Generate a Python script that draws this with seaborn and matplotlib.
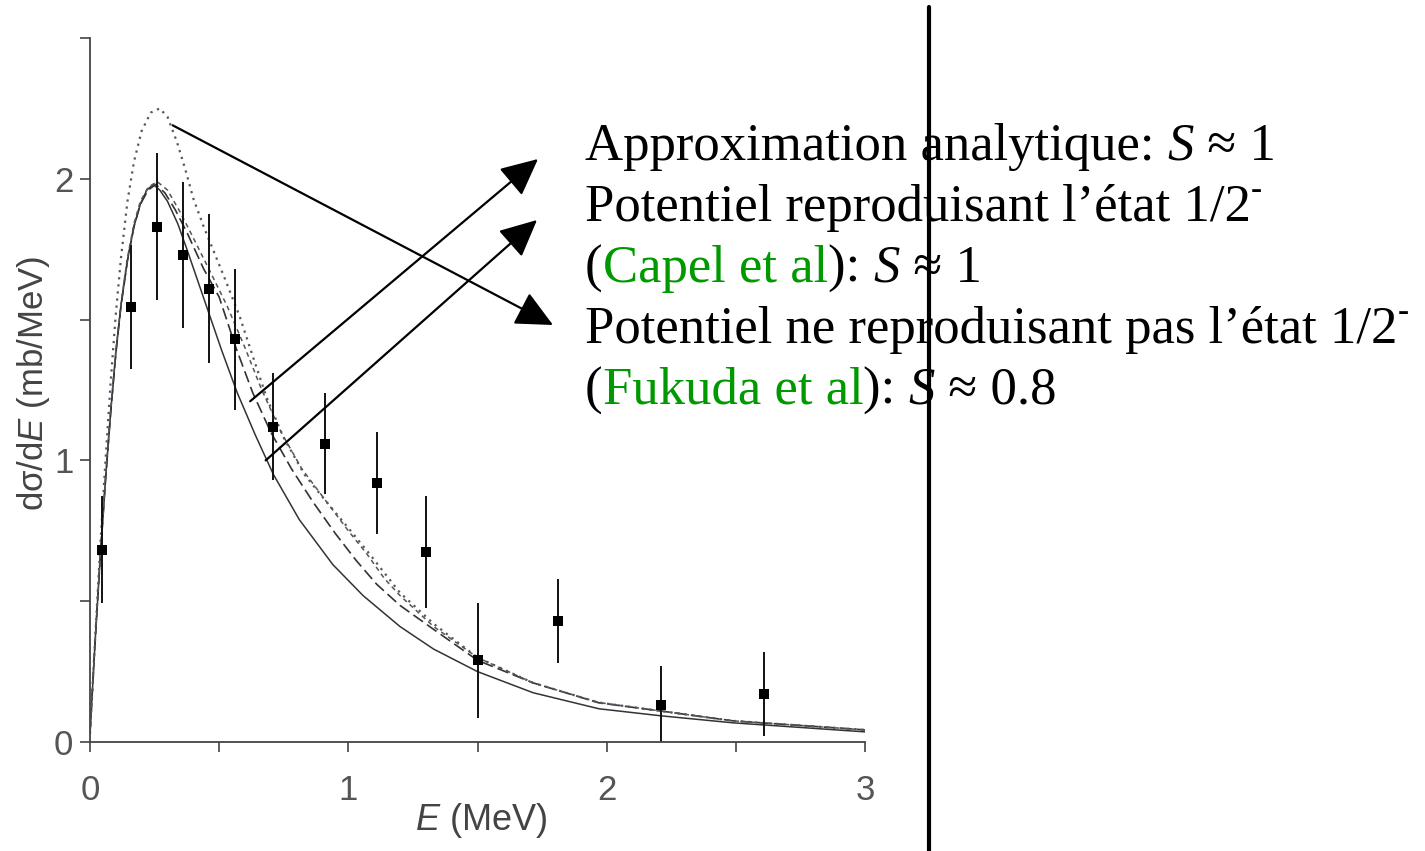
import numpy as np
import pandas as pd
import matplotlib
matplotlib.use("Agg")
import matplotlib.pyplot as plt
from matplotlib.lines import Line2D
import seaborn as sns

# ---------------- data ----------------
exp_E = [0.046, 0.16, 0.26, 0.36, 0.46, 0.56, 0.71, 0.91, 1.11, 1.30, 1.50, 1.81, 2.21, 2.61]
exp_y = [0.683, 1.545, 1.83, 1.73, 1.61, 1.43, 1.12, 1.06, 0.92, 0.675, 0.29, 0.43, 0.13, 0.17]
exp_err = [0.19, 0.22, 0.26, 0.26, 0.265, 0.25, 0.19, 0.18, 0.18, 0.20, 0.205, 0.15, 0.14, 0.15]

solid_E = [0, 0.02, 0.04, 0.06, 0.08, 0.10, 0.12, 0.145, 0.17, 0.195, 0.22, 0.245, 0.27, 0.30,
           0.34, 0.375, 0.42, 0.465, 0.51, 0.57, 0.64, 0.71, 0.81, 0.94, 1.057, 1.2, 1.33, 1.5,
           1.715, 1.97, 2.21, 2.49, 3.0]
solid_y = [0.03, 0.36, 0.66, 0.93, 1.17, 1.38, 1.55, 1.71, 1.83, 1.91, 1.96, 1.98, 1.96, 1.92,
           1.84, 1.75, 1.63, 1.51, 1.39, 1.24, 1.09, 0.95, 0.79, 0.63, 0.52, 0.41, 0.33, 0.25,
           0.175, 0.118, 0.093, 0.068, 0.036]

longdash_E = [0, 0.02, 0.04, 0.06, 0.08, 0.10, 0.12, 0.145, 0.17, 0.195, 0.225, 0.255, 0.29,
              0.33, 0.375, 0.44, 0.50, 0.565, 0.63, 0.70, 0.78, 0.865, 0.95, 1.03, 1.11, 1.2,
              1.33, 1.5, 1.715, 1.97, 2.21, 2.49, 3.0]
longdash_y = [0.03, 0.36, 0.66, 0.93, 1.17, 1.38, 1.55, 1.71, 1.83, 1.91, 1.96, 1.98, 1.95,
              1.89, 1.81, 1.68, 1.58, 1.40, 1.24, 1.10, 0.97, 0.85, 0.74, 0.645, 0.56, 0.485,
              0.40, 0.29, 0.21, 0.139, 0.11, 0.075, 0.043]

shortdash_E = [0, 0.02, 0.04, 0.06, 0.08, 0.10, 0.12, 0.145, 0.17, 0.195, 0.225, 0.26, 0.30,
               0.35, 0.40, 0.46, 0.53, 0.60, 0.665, 0.74, 0.82, 0.91, 1.0, 1.07, 1.14, 1.2,
               1.33, 1.5, 1.715, 1.97, 2.21, 2.49, 3.0]
shortdash_y = [0.03, 0.36, 0.67, 0.94, 1.18, 1.39, 1.56, 1.72, 1.84, 1.92, 1.97, 1.99, 1.96,
               1.88, 1.79, 1.68, 1.55, 1.40, 1.25, 1.10, 0.97, 0.86, 0.75, 0.67, 0.58, 0.52,
               0.41, 0.30, 0.21, 0.14, 0.11, 0.075, 0.043]

dotted_E = [0, 0.02, 0.04, 0.06, 0.08, 0.10, 0.12, 0.145, 0.17, 0.20, 0.235, 0.27, 0.30, 0.337,
            0.37, 0.40, 0.44, 0.48, 0.52, 0.58, 0.63, 0.685, 0.75, 0.83, 0.90, 1.0, 1.08, 1.2,
            1.33, 1.5, 1.715, 1.97, 2.21, 2.49, 3.0]
dotted_y = [0.03, 0.37, 0.70, 1.00, 1.28, 1.52, 1.72, 1.92, 2.06, 2.17, 2.235, 2.25, 2.22, 2.13,
            2.03, 1.93, 1.83, 1.74, 1.65, 1.51, 1.37, 1.22, 1.08, 0.95, 0.87, 0.76, 0.67, 0.53,
            0.42, 0.30, 0.21, 0.14, 0.11, 0.075, 0.043]

x_ticks = [0, 1, 2, 3]
y_ticks = [0, 1, 2]

# ---------------- figure ----------------
sns.set_style("ticks")
plt.rcParams["font.family"] = ["Liberation Sans", "DejaVu Sans"]
plt.rcParams["mathtext.fontset"] = "custom"
plt.rcParams["mathtext.rm"] = "Liberation Sans"
plt.rcParams["mathtext.it"] = "Liberation Sans:italic"

W, H = 1425, 851
fig = plt.figure(figsize=(W / 100, H / 100), dpi=100)
fig.patch.set_facecolor("white")
ax_w, ax_h = 865 - 90, 742 - 38
ax = fig.add_axes([90 / W, 1 - 742 / H, ax_w / W, ax_h / H])
ax.set_facecolor("white")

axis_col = "#444444"
curve_col = "#333333"

sns.lineplot(x=solid_E, y=solid_y, ax=ax, color=curve_col, lw=1.1, linestyle="-", sort=False)
sns.lineplot(x=longdash_E, y=longdash_y, ax=ax, color=curve_col, lw=1.2, linestyle=(0, (7, 3)), sort=False)
sns.lineplot(x=shortdash_E, y=shortdash_y, ax=ax, color="#555555", lw=1.1, linestyle=(0, (3, 2.5)), sort=False)
sns.lineplot(x=dotted_E, y=dotted_y, ax=ax, color="#555566", lw=1.6, linestyle=(0, (1, 2.2)), sort=False)

lo = np.minimum(np.array(exp_err), np.array(exp_y))
ax.errorbar(exp_E, exp_y, yerr=[lo, exp_err], fmt="none", ecolor="#111111", elinewidth=1.4, capsize=0)
sns.scatterplot(x=exp_E, y=exp_y, ax=ax, marker="s", s=42, color="black", edgecolor="black", linewidth=0, zorder=5)

ax.set_xlim(0, 3)
ax.set_ylim(0, 2.5)
xt = [0, 0.5, 1, 1.5, 2, 2.5, 3]
yt = [0, 0.5, 1, 1.5, 2, 2.5]
ax.set_xticks(xt)
ax.set_xticklabels([str(int(v)) if v in x_ticks else "" for v in xt])
ax.set_yticks(yt)
ax.set_yticklabels([str(int(v)) if v in y_ticks else "" for v in yt])
ax.tick_params(axis="both", direction="out", length=7, width=1.2, colors=axis_col,
               labelsize=25, labelcolor="#555555")
ax.tick_params(axis="x", pad=16)
ax.tick_params(axis="y", pad=5)
for s in ["top", "right"]:
    ax.spines[s].set_visible(False)
for s in ["left", "bottom"]:
    ax.spines[s].set_color(axis_col)
    ax.spines[s].set_linewidth(1.3)

ax.set_xlabel("$E$ (MeV)", fontsize=26, color="#444444")
ax.xaxis.label.set_verticalalignment("center")
ax.xaxis.set_label_coords(0.505, -(820 - 742) / ax_h)
ax.set_ylabel("dσ/d$E$ (mb/MeV)", fontsize=25, color="#444444")
ax.yaxis.label.set_verticalalignment("center")
ax.yaxis.set_label_coords(-(90 - 34) / ax_w, (742 - 383) / ax_h)

# vertical separator
fig.add_artist(Line2D([929 / W, 929 / W], [0, 1 - 7 / H], transform=fig.transFigure, lw=3, color="black"))

# ---------------- rich text ----------------
serif = "Liberation Serif"
fs = 38
green = "#009900"
fig.canvas.draw()
renderer = fig.canvas.get_renderer()


def rich_line(x_px, base_px, parts):
    x = x_px
    for txt, col, style, size, rise in parts:
        t = fig.text(x / W, 1 - (base_px - rise) / H, txt, color=col, fontsize=size,
                     family=[serif, "DejaVu Serif"], style=style, va="baseline", ha="left")
        bb = t.get_window_extent(renderer)
        x += bb.width


N = "normal"
rich_line(585, 160, [("Approximation analytique: ", "black", N, fs, 0),
                     ("S", "black", "italic", fs, 0),
                     (" ≈ 1", "black", N, fs, 0)])
rich_line(585, 221, [("Potentiel reproduisant l’état 1/2", "black", N, fs, 0),
                     ("-", "black", N, 24, 22)])
rich_line(585, 282, [("(", "black", N, fs, 0),
                     ("Capel et al", green, N, fs, 0),
                     ("): ", "black", N, fs, 0),
                     ("S", "black", "italic", fs, 0),
                     (" ≈ 1", "black", N, fs, 0)])
rich_line(585, 343, [("Potentiel ne reproduisant pas l’état 1/2", "black", N, fs, 0),
                     ("-", "black", N, 24, 22)])
rich_line(585, 404, [("(", "black", N, fs, 0),
                     ("Fukuda et al", green, N, fs, 0),
                     ("): ", "black", N, fs, 0),
                     ("S", "black", "italic", fs, 0),
                     (" ≈ 0.8", "black", N, fs, 0)])

# ---------------- arrows ----------------
arrow_kw = dict(arrowstyle="-|>,head_length=1.15,head_width=0.55", color="black", lw=1.6,
                shrinkA=0, shrinkB=0, mutation_scale=20)
arrows = [((0.32, 2.19), (553, 325)),
          ((0.62, 1.21), (538, 159)),
          ((0.68, 1.00), (537, 220))]
for tail, head in arrows:
    ax.annotate("", xy=(head[0], H - head[1]), xycoords="figure pixels",
                xytext=tail, textcoords="data", arrowprops=arrow_kw, annotation_clip=False)

fig.savefig("out.png", dpi=100, facecolor="white")
